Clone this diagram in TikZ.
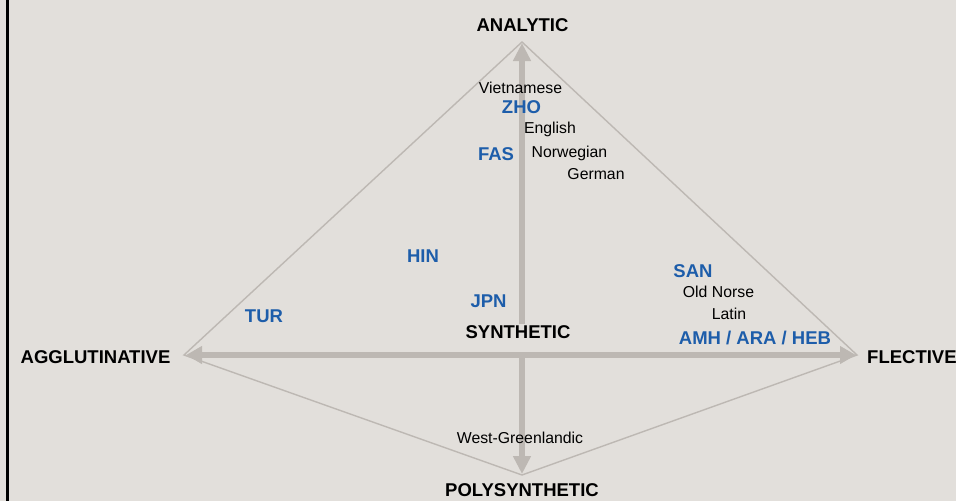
\documentclass[tikz,border=0pt]{standalone}
\usepackage{fontspec}
\setmainfont{Liberation Sans}
\usetikzlibrary{arrows.meta}
\definecolor{paper}{HTML}{E2DFDB}
\definecolor{axisgrey}{HTML}{BDB8B3}
\definecolor{langblue}{HTML}{1D5DAA}

\begin{document}
\begin{tikzpicture}[x=1pt,y=-1pt,
  pole/.style={font=\fontsize{18.5}{20}\selectfont\bfseries, text=black,
    anchor=base, yshift=-6.6pt, inner sep=0pt},
  code/.style={font=\fontsize{18.5}{20}\selectfont\bfseries, text=langblue,
    anchor=base, yshift=-6.6pt, inner sep=0pt},
  lang/.style={font=\fontsize{15.8}{18}\selectfont, text=black,
    anchor=base, yshift=-5.7pt, inner sep=0pt},
  edge/.style={draw=axisgrey, line width=1.4pt},
  axisarrow/.style={draw=axisgrey, line width=5.5pt,
    {Triangle[length=16pt,width=17pt]}-{Triangle[length=16pt,width=17pt]}}]

  % page and left rule
  \fill[paper] (0,0) rectangle (956,501);
  \useasboundingbox (0,0) rectangle (956,501);
  \fill[black] (6,0) rectangle (8.5,501);

  % corners of the diamond
  \coordinate (top) at (522,42);
  \coordinate (left) at (184,355);
  \coordinate (right) at (857,355);
  \coordinate (bottom) at (522,475);

  % arrow ends
  \coordinate (hl) at (186,355);
  \coordinate (hr) at (856,355);
  \coordinate (vt) at (522,43);
  \coordinate (vb) at (522,474);

  % outline
  \draw[edge] (left) -- (top) -- (right) -- (bottom) -- cycle;

  % axes
  \draw[axisarrow] (hl) -- (hr);
  \draw[axisarrow, line width=6pt,
    {Triangle[length=18pt,width=17pt]}-{Triangle[length=18pt,width=17pt]}] (vb) -- (vt);

  % poles
  \node[pole] (analytic) at (522.5,25) {ANALYTIC};
  \node[pole] (agglut) at (95.5,357) {AGGLUTINATIVE};
  \node[pole, anchor=base west] (flective) at (867,357) {FLECTIVE};
  \node[pole] (polysyn) at (522,490) {POLYSYNTHETIC};
  \node[pole, fill=paper, inner xsep=0pt, inner ysep=0pt,
        text height=15pt, text depth=13pt] (synthetic) at (518,332) {SYNTHETIC};

  % languages
  \node[lang] (vie) at (520.5,88) {Vietnamese};
  \node[code] (zho) at (521.5,107) {ZHO};
  \node[lang] (eng) at (550,128) {English};
  \node[code] (fas) at (496,154) {FAS};
  \node[lang] (nor) at (569.5,152) {Norwegian};
  \node[lang] (deu) at (596,174) {German};
  \node[code] (hin) at (423,256) {HIN};
  \node[code] (tur) at (264,316) {TUR};
  \node[code] (jpn) at (488.5,301) {JPN};
  \node[code] (san) at (693,271) {SAN};
  \node[lang] (non) at (718.5,292) {Old Norse};
  \node[lang] (lat) at (729,314) {Latin};
  \node[code] (sem) at (755,338) {AMH / ARA / HEB};
  \node[lang] (kal) at (520,438) {West-Greenlandic};
\end{tikzpicture}
\end{document}
